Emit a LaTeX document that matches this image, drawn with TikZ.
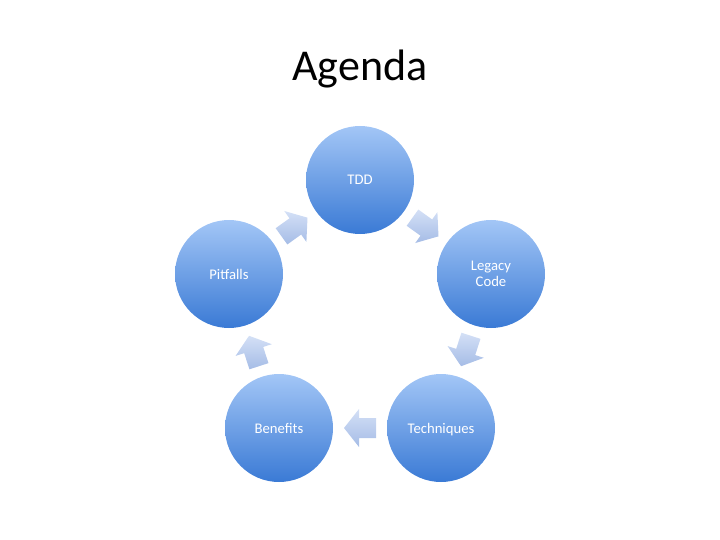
\documentclass[tikz,border=0pt]{standalone}
\usepackage{fontspec}
\setmainfont{Carlito}
\usetikzlibrary{calc}
\definecolor{circtop}{HTML}{A3C6F6}
\definecolor{circbot}{HTML}{3A7AD5}
\definecolor{arrtop}{HTML}{D4E0F6}
\definecolor{arrbot}{HTML}{A5BCE6}

\tikzset{
  topic/.style={circle, minimum size=108pt, inner sep=0pt, top color=circtop,
    bottom color=circbot, text=white, align=center, font=\fontsize{14.7}{16}\selectfont},
  cyclearrow/.style={top color=arrtop, bottom color=arrbot}
}

\begin{document}
\begin{tikzpicture}[x=1pt,y=-1pt]
  \useasboundingbox (0,0) rectangle (720,540);
  \node[font=\fontsize{44}{53}\selectfont, anchor=base] (title) at (360,81) {Agenda};
  \node[topic] (tdd) at (360,180) {TDD};
  \node[topic] (legacy) at (491,274) {Legacy\\Code};
  \node[topic, text depth=0pt] (tech) at (441,428) {Techniques};
  \node[topic] (benefits) at (279,428) {Benefits};
  \node[topic] (pitfalls) at (229,274) {Pitfalls};
  \foreach \from/\to in {tdd/legacy,legacy/tech,tech/benefits,benefits/pitfalls,pitfalls/tdd}
    \path[cyclearrow] let \p1=($(\to)-(\from)$), \n1={atan2(\y1,\x1)} in
      [shift={($(\from)!0.5!(\to)$)}, rotate=\n1]
      (-16,-10) -- (1,-10) -- (1,-19) -- (16,0) -- (1,19) -- (1,10) -- (-16,10) -- cycle;
\end{tikzpicture}
\end{document}
